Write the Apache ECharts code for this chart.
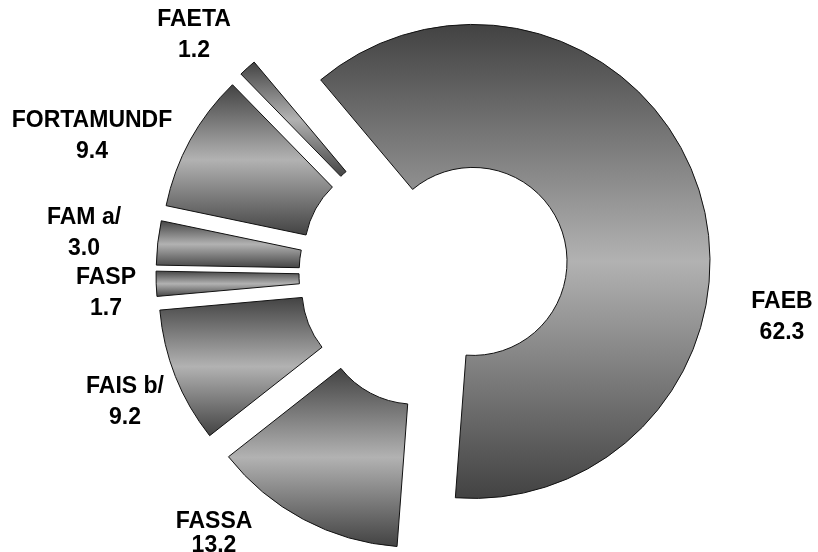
<!DOCTYPE html>
<html>
<head>
<meta charset="utf-8">
<style>
  html, body { margin: 0; padding: 0; background: #fff; }
  #chart { width: 818px; height: 552px; }
</style>
<script src="https://cdn.jsdelivr.net/npm/echarts@6/dist/echarts.min.js"></script>
</head>
<body>
<div id="chart"></div>
<script>
// slices, clockwise from the top-left edge of FAEB
const names = ['FAEB', 'FASSA', 'FAIS b/', 'FASP', 'FAM a/', 'FORTAMUNDF', 'FAETA'];
const values = [62.3, 13.2, 9.2, 1.7, 3.0, 9.4, 1.2];

// where each label block sits (centre), same order as names
const labelPos = [
  [782, 317],
  [214, 534],
  [125, 402],
  [106, 293],
  [84, 233],
  [92, 136],
  [194, 35]
];

const sliceFill = {
  type: 'linear',
  x: 0, y: 0, x2: 0, y2: 1,
  colorStops: [
    { offset: 0, color: '#424242' },
    { offset: 0.5, color: '#b2b2b2' },
    { offset: 1, color: '#424242' }
  ]
};

const ringCenter = [434, 274];
const ringRadius = [94, 237];

const chart = echarts.init(document.getElementById('chart'), null, { renderer: 'canvas' });

chart.setOption({
  animation: false,
  series: [
    {
      // exploded ring
      type: 'pie',
      center: ringCenter,
      radius: ringRadius,
      startAngle: 130,
      clockwise: true,
      selectedMode: 'multiple',
      selectedOffset: 41,
      itemStyle: {
        color: sliceFill,
        borderColor: '#111',
        borderWidth: 1
      },
      select: {
        itemStyle: { color: sliceFill, borderColor: '#111', borderWidth: 1 }
      },
      emphasis: { disabled: true },
      label: { show: false },
      labelLine: { show: false },
      data: names.map((name, i) => ({ name, value: values[i], selected: true }))
    },
    {
      // same slices, invisible, only carrying the labels
      type: 'pie',
      silent: true,
      center: ringCenter,
      radius: ringRadius,
      startAngle: 130,
      clockwise: true,
      avoidLabelOverlap: false,
      itemStyle: { color: 'rgba(0,0,0,0)', borderWidth: 0 },
      emphasis: { disabled: true },
      labelLine: { show: false },
      label: {
        show: true,
        position: 'outside',
        color: '#000',
        fontFamily: 'Liberation Sans, Arial, sans-serif',
        fontWeight: 'bold',
        fontSize: 23,
        lineHeight: 31,
        formatter: (p) => `${p.name}\n${p.value.toFixed(1)}`
      },
      labelLayout: (params) => {
        const pos = labelPos[params.dataIndex];
        return { x: pos[0], y: pos[1], align: 'center', verticalAlign: 'middle' };
      },
      data: names.map((name, i) => ({
        name,
        value: values[i],
        label: name === 'FASSA' ? { lineHeight: 24 } : undefined
      }))
    }
  ]
});
</script>
</body>
</html>
